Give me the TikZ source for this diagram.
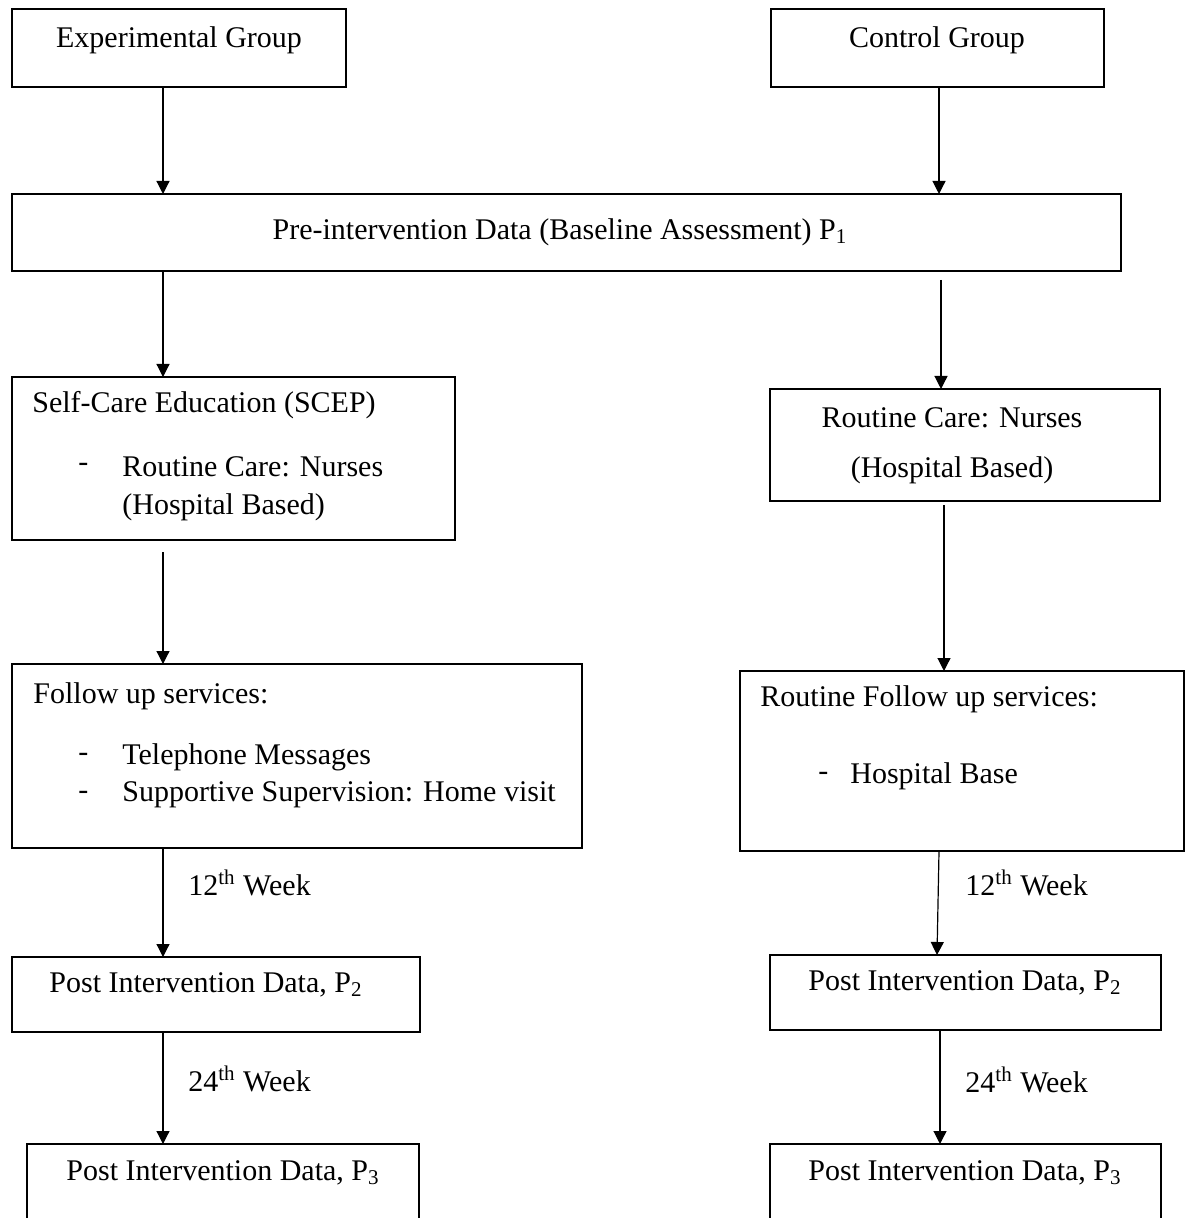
\documentclass[tikz,border=0pt]{standalone}
\usepackage{fontspec}
\setmainfont{Liberation Serif}
\usetikzlibrary{arrows.meta,calc}
\begin{document}
\begin{tikzpicture}[x=0.5pt,y=-0.5pt,
  box/.style={draw,line width=1pt,rectangle,inner sep=0pt,outer sep=0pt,anchor=north west},
  txt/.style={inner sep=0pt,font=\fontsize{15}{18}\selectfont},
  arr/.style={line width=0.6pt,-{Triangle[length=6.5pt,width=6.5pt]}}]
\useasboundingbox (0,0) rectangle (1188,1218);
\clip (0,0) rectangle (1188,1218);
% boxes
\node[box,minimum width=167pt,minimum height=39pt] (eg) at (12,9) {};
\node[box,minimum width=166.5pt,minimum height=39pt] (cg) at (771,9) {};
\node[box,minimum width=554.5pt,minimum height=38.5pt] (pre) at (12,194) {};
\node[box,minimum width=221.5pt,minimum height=81.5pt] (scep) at (12,377) {};
\node[box,minimum width=195pt,minimum height=56pt] (rc) at (770,389) {};
\node[box,minimum width=285pt,minimum height=92pt] (ful) at (12,664) {};
\node[box,minimum width=222pt,minimum height=90pt] (fur) at (740,671) {};
\node[box,minimum width=204pt,minimum height=37.5pt] (p2l) at (12,957) {};
\node[box,minimum width=195.5pt,minimum height=37.5pt] (p2r) at (770,955) {};
\node[box,minimum width=196pt,minimum height=48pt] (p3l) at (27,1144) {};
\node[box,minimum width=195.5pt,minimum height=48pt] (p3r) at (770,1144) {};
% texts
\node[txt] (teg) at (179,40) {Experimental Group};
\node[txt] (tcg) at (937,40) {Control Group};
\node[txt] (tpre) at (560,232) {Pre-intervention Data (Baseline Assessment) P\textsubscript{1}};
\node[txt,anchor=west] (ts1) at (32,405) {Self-Care Education (SCEP)};
\node[txt,anchor=west] (ts2) at (78,467) {-};
\node[txt,anchor=west] (ts3) at (122,467) {Routine Care: Nurses};
\node[txt,anchor=west] (ts4) at (122,507) {(Hospital Based)};
\node[txt] (trc1) at (952,418) {Routine Care: Nurses};
\node[txt] (trc2) at (952,470) {(Hospital Based)};
\node[txt,anchor=west] (tf1) at (33,696) {Follow up services:};
\node[txt,anchor=west] (tf2) at (78,757) {-};
\node[txt,anchor=west] (tf3) at (122,757) {Telephone Messages};
\node[txt,anchor=west] (tf4) at (78,795) {-};
\node[txt,anchor=west] (tf5) at (122,795) {Supportive Supervision: Home visit};
\node[txt,anchor=west] (tr1) at (760,699) {Routine Follow up services:};
\node[txt,anchor=west] (tr2) at (818,776) {-};
\node[txt,anchor=west] (tr3) at (850,776) {Hospital Base};
\node[txt] (tp2l) at (206,985) {Post Intervention Data, P\textsubscript{2}};
\node[txt] (tp2r) at (965,983) {Post Intervention Data, P\textsubscript{2}};
\node[txt] (tp3l) at (223,1173) {Post Intervention Data, P\textsubscript{3}};
\node[txt] (tp3r) at (965,1173) {Post Intervention Data, P\textsubscript{3}};
\node[txt,anchor=west] (w12l) at (188,883) {12\textsuperscript{th} Week};
\node[txt,anchor=west] (w12r) at (965,883) {12\textsuperscript{th} Week};
\node[txt,anchor=west] (w24l) at (188,1079) {24\textsuperscript{th} Week};
\node[txt,anchor=west] (w24r) at (965,1080) {24\textsuperscript{th} Week};
% column coordinates
\coordinate (lc) at (163,0);
\coordinate (ra) at (939,0);
\coordinate (rb) at (941,0);
\coordinate (rcc) at (944,0);
\coordinate (rd) at (937,0);
\coordinate (re) at (940,0);
% connectors
\draw[arr] (eg.south -| lc) -- (pre.north -| lc);
\draw[arr] (cg.south -| ra) -- (pre.north -| ra);
\draw[arr] (pre.south -| lc) -- (scep.north -| lc);
\draw[arr] ($(pre.south -| rb)+(0,9)$) -- (rc.north -| rb);
\draw[arr] ($(scep.south -| lc)+(0,12)$) -- (ful.north -| lc);
\draw[arr] ($(rc.south -| rcc)+(0,4)$) -- (fur.north -| rcc);
\draw[arr] (ful.south -| lc) -- (p2l.north -| lc);
\draw[arr] (fur.south -| ra) -- (p2r.north -| rd);
\draw[arr] (p2l.south -| lc) -- (p3l.north -| lc);
\draw[arr] (p2r.south -| re) -- (p3r.north -| re);
\end{tikzpicture}
\end{document}
